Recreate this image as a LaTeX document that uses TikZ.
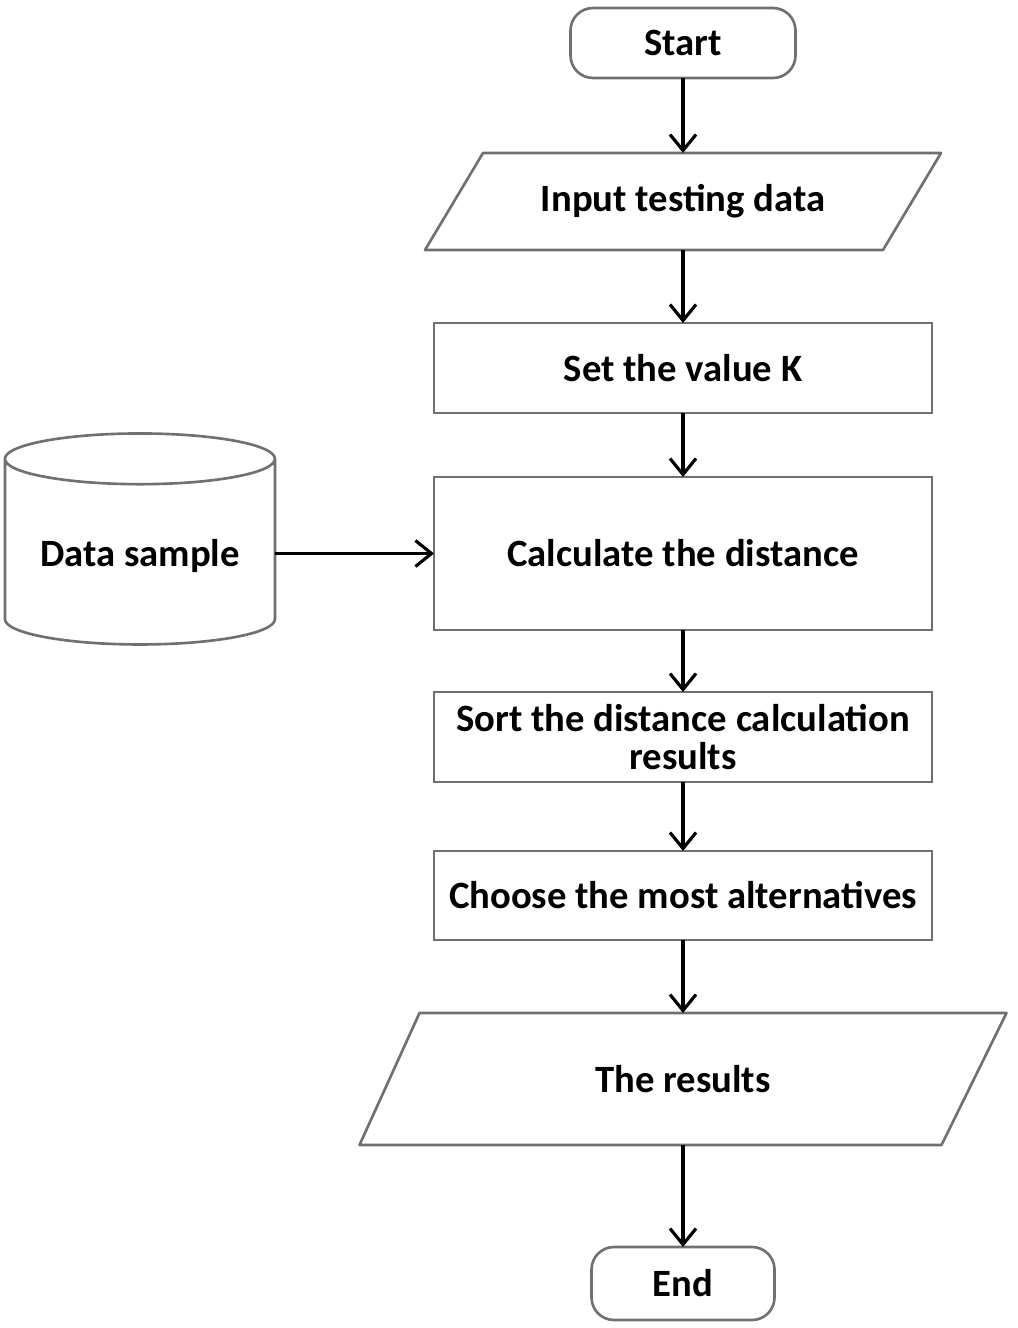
\documentclass[tikz,border=0pt]{standalone}
\usepackage{fontspec}
\setmainfont{Carlito}
\usepackage{tikz}
\usetikzlibrary{arrows.meta,positioning,shapes.geometric}
\definecolor{fcInk}{HTML}{000000}
\definecolor{fcEdge}{HTML}{707070}
\tikzset{
  % Terminal (start / end)
  tbox/.style={rectangle,rounded corners=0.45cm,
    minimum height=1.4cm,align=center,draw=fcEdge,fill=white,
    line width=1.5pt,outer sep=0pt,
    font=\fontsize{22}{19}\selectfont\bfseries,text=fcInk},
  % Process box
  pbox/.style={rectangle,minimum width=9.96cm,
    minimum height=1.8cm,align=center,draw=fcEdge,fill=white,
    line width=1.5pt,outer sep=0pt,
    font=\fontsize{22}{22}\selectfont\bfseries,
    text=fcInk,inner sep=0pt},
  % Input / output (parallelogram drawn afterwards)
  iobox/.style={rectangle,align=center,inner sep=0pt,outer sep=0pt,
    font=\fontsize{22}{19}\selectfont\bfseries,text=fcInk},
  outl/.style={draw=fcEdge,line width=1.5pt,line join=round},
  % Data store
  dbbox/.style={cylinder,shape border rotate=90,aspect=0.24,
    minimum width=5.4cm,minimum height=4.22cm,align=center,
    draw=fcEdge,fill=white,line width=1.5pt,outer sep=0pt,
    font=\fontsize{22}{19}\selectfont\bfseries,text=fcInk},
  % Arrows
  arr/.style={-{Straight Barb[length=0.32cm,width=0.52cm]},
    line width=1.8pt,color=fcInk},
}
\begin{document}
\begin{tikzpicture}[node distance=1.4cm]
  \useasboundingbox (0,0) rectangle (20.36,-26.56);
  \node[tbox,minimum width=4.5cm] (start) at (13.66,-0.86) {Start};
  \node[iobox,minimum width=10.32cm,minimum height=1.94cm,
    below=1.5cm of start] (inp) {Input testing data};
  \node[pbox,below=1.46cm of inp] (setk) {Set the value K};
  \node[pbox,minimum height=3.06cm,below=1.28cm of setk] (calc)
    {Calculate the distance};
  \node[pbox,below=1.24cm of calc] (sort)
    {Sort the distance calculation\\results};
  \node[pbox,minimum height=1.78cm,below=1.38cm of sort] (choose)
    {Choose the most alternatives};
  \node[iobox,minimum width=12.94cm,minimum height=2.64cm,
    below=1.46cm of choose] (res) {The results};
  \node[tbox,minimum width=3.66cm,minimum height=1.46cm,
    below=2.04cm of res] (end) {End};
  \node[dbbox,left=3.18cm of calc,yshift=-0.05cm] (data) {Data sample};

  % parallelograms
  \draw[outl] (inp.south west) -- ([xshift=1.16cm]inp.north west)
    -- (inp.north east) -- ([xshift=-1.16cm]inp.south east) -- cycle;
  \draw[outl] (res.south west) -- ([xshift=1.2cm]res.north west)
    -- (res.north east) -- ([xshift=-1.3cm]res.south east) -- cycle;

  \draw[arr] (start) -- (inp);
  \draw[arr] (inp) -- (setk);
  \draw[arr] (setk) -- (calc);
  \draw[arr] (calc) -- (sort);
  \draw[arr] (sort) -- (choose);
  \draw[arr] (choose) -- (res);
  \draw[arr] (res) -- (end);
  \draw[arr] (data.east |- calc) -- (calc);
\end{tikzpicture}
\end{document}
